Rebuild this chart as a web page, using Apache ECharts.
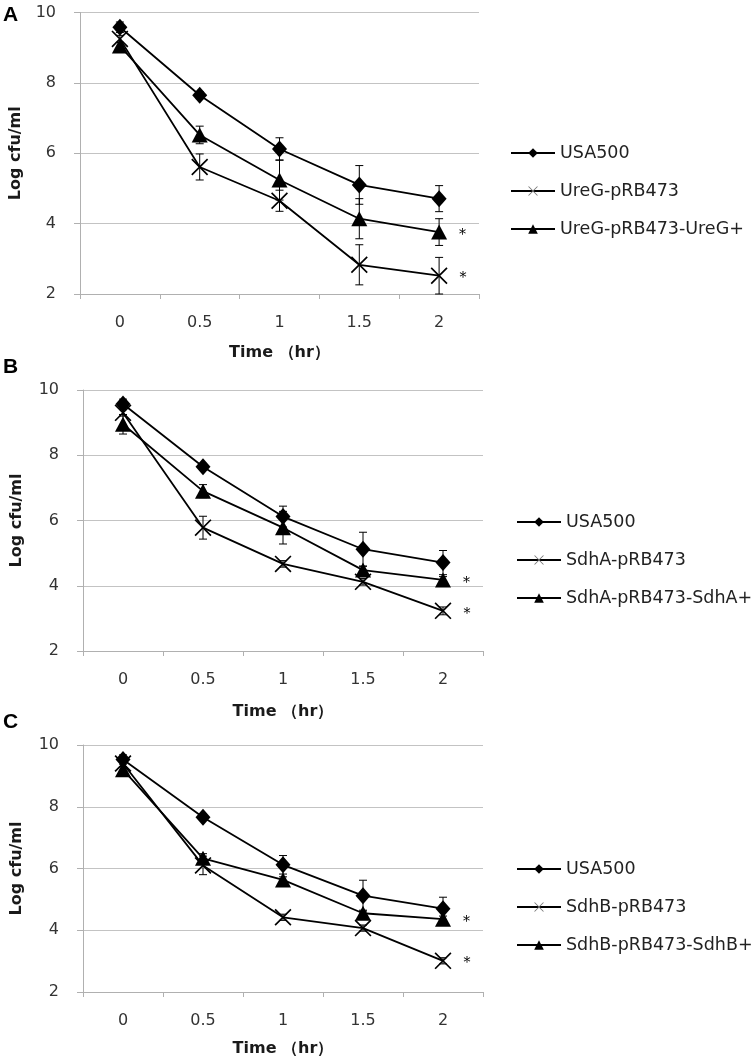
<!DOCTYPE html>
<html><head><meta charset="utf-8">
<script src="https://cdn.jsdelivr.net/npm/echarts@6/dist/echarts.min.js"></script>
<style>html,body{margin:0;padding:0;background:#fff}#c{width:756px;height:1062px}</style>
</head><body><div id="c"></div>
<script>
// ---------- data ----------
const timeCats = ['0', '0.5', '1', '1.5', '2'];
const yTickMin = 2, yTickMax = 10, yTickStep = 2;
const panelLetters = ['A', 'B', 'C'];
const xAxisTitle = 'Time （hr）';
const yAxisTitle = 'Log cfu/ml';

const seriesNamesA = ['USA500', 'UreG-pRB473', 'UreG-pRB473-UreG+'];
const usa500A = [9.58, 7.65, 6.12, 5.10, 4.71];
const usa500ErrA = [0.15, 0.10, 0.32, 0.55, 0.37];
const ureGA = [9.25, 5.61, 4.65, 2.83, 2.52];
const ureGErrA = [0.10, 0.37, 0.30, 0.57, 0.52];
const ureGCompA = [9.05, 6.52, 5.24, 4.14, 3.76];
const ureGCompErrA = [0.10, 0.25, 0.57, 0.57, 0.38];

const seriesNamesB = ['USA500', 'SdhA-pRB473', 'SdhA-pRB473-SdhA+'];
const usa500B = [9.57, 7.65, 6.12, 5.12, 4.71];
const usa500ErrB = [0.15, 0.10, 0.32, 0.52, 0.37];
const sdhAB = [9.30, 5.78, 4.67, 4.12, 3.23];
const sdhAErrB = [0.10, 0.35, 0.10, 0.10, 0.12];
const sdhACompB = [8.95, 6.90, 5.78, 4.48, 4.18];
const sdhACompErrB = [0.30, 0.20, 0.50, 0.12, 0.10];

const seriesNamesC = ['USA500', 'SdhB-pRB473', 'SdhB-pRB473-SdhB+'];
const usa500C = [9.53, 7.66, 6.12, 5.12, 4.70];
const usa500ErrC = [0.15, 0.10, 0.30, 0.50, 0.37];
const sdhBC = [9.40, 6.10, 4.42, 4.07, 3.01];
const sdhBErrC = [0.10, 0.30, 0.10, 0.10, 0.10];
const sdhBCompC = [9.20, 6.33, 5.63, 4.55, 4.36];
const sdhBCompErrC = [0.10, 0.15, 0.10, 0.10, 0.10];

const significantAt2h = [false, true, true];
const starText = '*';

// ---------- assembly ----------
const panels = [
  { names: seriesNamesA, values: [usa500A, ureGA, ureGCompA], errs: [usa500ErrA, ureGErrA, ureGCompErrA] },
  { names: seriesNamesB, values: [usa500B, sdhAB, sdhACompB], errs: [usa500ErrB, sdhAErrB, sdhACompErrB] },
  { names: seriesNamesC, values: [usa500C, sdhBC, sdhBCompC], errs: [usa500ErrC, sdhBErrC, sdhBCompErrC] }
];

const layout = [
  { grid: { left: 80, top: 12.5, width: 399, height: 281.5 }, letter: { left: 3, top: 5 }, legend: { left: 510, top: 144 }, xNameGap: 51, yNameGap: 56 },
  { grid: { left: 83, top: 390, width: 400, height: 261 }, letter: { left: 3, top: 357 }, legend: { left: 516, top: 513 }, xNameGap: 53, yNameGap: 58 },
  { grid: { left: 83, top: 745, width: 400, height: 247 }, letter: { left: 3, top: 712 }, legend: { left: 516, top: 860 }, xNameGap: 49, yNameGap: 58 }
];

const FONT = 'DejaVu Sans';
const crossPath = 'path://M0,0.7L0.7,0L10,9.3L9.3,10ZM9.3,0L10,0.7L0.7,10L0,9.3Z';
const symbols = ['diamond', crossPath, 'triangle'];
const symbolSizes = [[15, 17], 17, [16, 15]];
const gridColor = '#c3c3c3';
const axisColor = '#b0b0b0';

function errRender(params, api) {
  const x = api.value(0), v = api.value(1), e = api.value(2);
  const top = api.coord([x, v + e]);
  const bot = api.coord([x, v - e]);
  const cap = 4;
  const st = { stroke: '#000', lineWidth: 1 };
  return {
    type: 'group',
    children: [
      { type: 'line', shape: { x1: top[0], y1: top[1], x2: bot[0], y2: bot[1] }, style: st },
      { type: 'line', shape: { x1: top[0] - cap, y1: top[1], x2: top[0] + cap, y2: top[1] }, style: st },
      { type: 'line', shape: { x1: bot[0] - cap, y1: bot[1], x2: bot[0] + cap, y2: bot[1] }, style: st }
    ]
  };
}

const option = {
  animation: false,
  backgroundColor: '#fff',
  title: panelLetters.map((t, p) => ({
    text: t, left: layout[p].letter.left, top: layout[p].letter.top, padding: 0,
    textStyle: { fontFamily: 'Liberation Sans', fontWeight: 'bold', fontSize: 21, color: '#000' }
  })),
  grid: layout.map(l => l.grid),
  xAxis: layout.map((l, p) => ({
    type: 'category', gridIndex: p, data: timeCats, boundaryGap: true,
    name: xAxisTitle, nameLocation: 'middle', nameGap: l.xNameGap,
    nameTextStyle: { fontFamily: FONT, fontWeight: 'bold', fontSize: 16, color: '#1a1a1a' },
    axisLine: { lineStyle: { color: axisColor, width: 1 } },
    axisTick: { show: true, alignWithLabel: false, length: 5, lineStyle: { color: axisColor } },
    axisLabel: { fontFamily: FONT, fontSize: 16, color: '#333', margin: 21 },
    splitLine: { show: false }
  })),
  yAxis: layout.map((l, p) => ({
    type: 'value', gridIndex: p, min: yTickMin, max: yTickMax, interval: yTickStep,
    name: yAxisTitle, nameLocation: 'middle', nameGap: l.yNameGap, nameRotate: 90,
    nameTextStyle: { fontFamily: FONT, fontWeight: 'bold', fontSize: 16, color: '#1a1a1a' },
    axisLine: { show: true, lineStyle: { color: axisColor, width: 1 } },
    axisTick: { show: true, length: 6, lineStyle: { color: axisColor } },
    axisLabel: { fontFamily: FONT, fontSize: 16, color: '#333', margin: 24 },
    splitLine: { show: true, lineStyle: { color: gridColor, width: 1 } }
  })),
  legend: panels.map((pn, p) => ({
    orient: 'vertical', left: layout[p].legend.left, top: layout[p].legend.top,
    itemWidth: 44, itemHeight: 12, itemGap: 20, padding: 0,
    textStyle: { fontFamily: FONT, fontSize: 17.5, color: '#222', lineHeight: 18 },
    data: pn.names.map((n, k) => k === 1 ? { name: n, itemStyle: { color: '#777' } } : { name: n })
  })),
  series: []
};

panels.forEach((pn, p) => {
  pn.values.forEach((vals, k) => {
    const last = vals.length - 1;
    option.series.push({
      name: pn.names[k], type: 'line', xAxisIndex: p, yAxisIndex: p,
      symbol: symbols[k], symbolSize: symbolSizes[k],
      lineStyle: { color: '#000', width: 1.8 },
      itemStyle: { color: '#000' },
      z: 3,
      data: vals.map((v, i) => (i === last && significantAt2h[k]) ? {
        value: v,
        label: { show: true, formatter: starText, position: 'right', distance: 12, offset: [0, 3],
                 fontFamily: 'DejaVu Serif', fontSize: 14, color: '#000' }
      } : v)
    });
    option.series.push({
      name: pn.names[k] + ' error', type: 'custom', xAxisIndex: p, yAxisIndex: p,
      renderItem: errRender, z: 4,
      encode: { x: 0, y: 1 },
      data: vals.map((v, i) => [i, v, pn.errs[k][i]])
    });
  });
});

const chart = echarts.init(document.getElementById('c'), null, { renderer: 'canvas' });
chart.setOption(option);
</script>
</body></html>
